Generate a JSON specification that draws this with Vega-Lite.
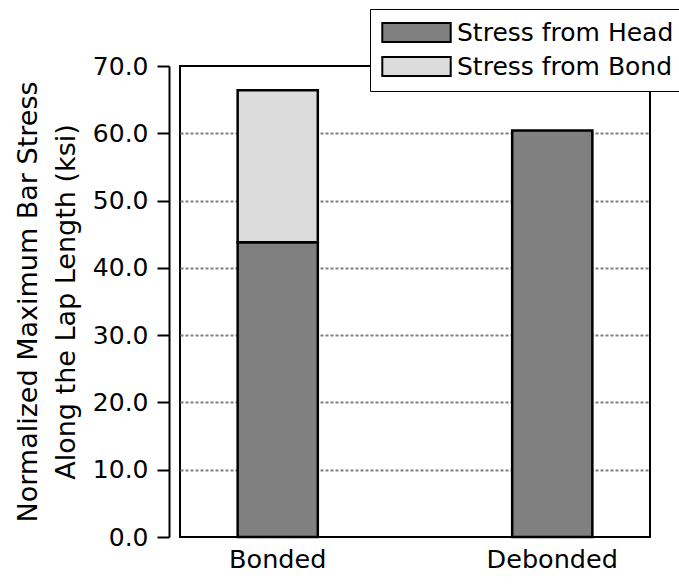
{
  "$schema": "https://vega.github.io/schema/vega-lite/v6.json",
  "width": 470,
  "height": 471,
  "autosize": "none",
  "padding": {"left": 180, "top": 66, "right": 29, "bottom": 47},
  "background": "white",
  "config": {
    "font": "DejaVu Sans",
    "view": {"stroke": "black", "strokeWidth": 2}
  },
  "data": {
    "values": [
      {"case": "Bonded", "source": "Stress from Head", "stress": 43.8},
      {"case": "Bonded", "source": "Stress from Bond", "stress": 22.6},
      {"case": "Debonded", "source": "Stress from Head", "stress": 60.4}
    ]
  },
  "mark": {"type": "bar", "stroke": "black", "strokeWidth": 2.5},
  "encoding": {
    "x": {
      "field": "case",
      "type": "nominal",
      "scale": {"paddingInner": 0.708, "paddingOuter": 0.21},
      "axis": {
        "title": null,
        "domain": false,
        "ticks": false,
        "labelAngle": 0,
        "labelFontSize": 25.5,
        "labelColor": "black",
        "labelPadding": 10
      }
    },
    "y": {
      "field": "stress",
      "type": "quantitative",
      "stack": "zero",
      "scale": {"domain": [0, 70], "nice": false},
      "axis": {
        "values": [0, 10, 20, 30, 40, 50, 60, 70],
        "format": ".1f",
        "offset": 11,
        "domainColor": "black",
        "domainWidth": 2,
        "tickColor": "black",
        "tickWidth": 2,
        "tickSize": 12,
        "labelFontSize": 25,
        "labelColor": "black",
        "labelPadding": 9,
        "grid": true,
        "gridColor": "#808080",
        "gridWidth": 2,
        "gridDash": [3, 2],
        "gridOpacity": {"condition": {"test": "datum.value == 0 || datum.value == 70", "value": 0}, "value": 1},
        "title": ["Normalized Maximum Bar Stress", "Along the Lap Length (ksi)"],
        "titleFontSize": 27,
        "titleFontWeight": "normal",
        "titleColor": "black",
        "titleLineHeight": 38,
        "titlePadding": 12
      }
    },
    "color": {
      "field": "source",
      "type": "nominal",
      "sort": ["Stress from Head", "Stress from Bond"],
      "scale": {"domain": ["Stress from Head", "Stress from Bond"], "range": ["#808080", "#dcdcdc"]},
      "legend": {
        "title": null,
        "orient": "none",
        "legendX": 190,
        "legendY": -57,
        "direction": "vertical",
        "strokeColor": "black",
        "fillColor": "white",
        "padding": 11,
        "symbolType": "M-3.6,-1H3.6V1H-3.6Z",
        "symbolSize": 361,
        "symbolStrokeWidth": 2,
        "symbolStrokeColor": "black",
        "symbolOpacity": 1,
        "symbolOffset": 23,
        "labelOffset": 28,
        "labelFontSize": 25,
        "labelLimit": 500,
        "labelColor": "black",
        "rowPadding": 7
      }
    },
    "order": {"field": "source", "sort": "descending"}
  }
}
